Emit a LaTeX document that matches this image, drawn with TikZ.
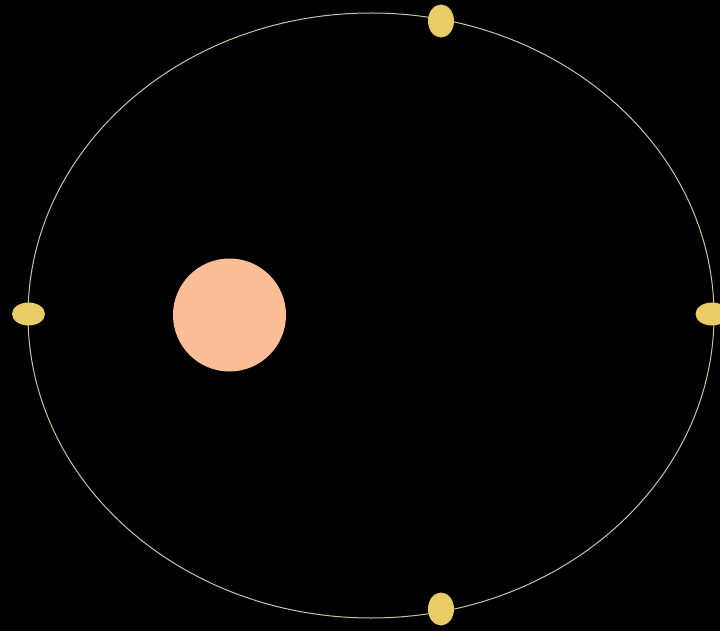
\documentclass[tikz,border=0pt]{standalone}
\usepackage{xcolor}
\usepackage{tikz}
\usetikzlibrary{shapes.geometric}
\definecolor{orbitline}{RGB}{204,196,162}
\definecolor{sunpeach}{RGB}{252,190,150}
\definecolor{planetgold}{RGB}{232,204,102}

\begin{document}
\begin{tikzpicture}[
    x=1pt, y=-1pt,
    orbit/.style={draw=orbitline, line width=1pt},
    sun/.style={circle, fill=sunpeach, minimum size=113pt, inner sep=0pt},
    planet/.style={ellipse, fill=planetgold, inner sep=0pt},
    upright/.style={planet, minimum width=26pt, minimum height=33pt},
    flat/.style={planet, minimum width=33pt, minimum height=23pt},
]
    % Background
    \fill[black] (0,0) rectangle (720,631);
    \useasboundingbox (0,0) rectangle (720,631);

    % Orbit
    \draw[orbit] (371,315.5) ellipse [x radius=343, y radius=302.5];

    % Sun at the focus
    \node[sun] (sun) at (229.5,315) {};

    % Planet positions
    \node[upright] (ptop) at (441,21) {};
    \node[upright] (pbottom) at (441,609) {};
    \node[flat] (pleft) at (28.5,314) {};
    \node[flat] (pright) at (712,314) {};
\end{tikzpicture}
\end{document}
